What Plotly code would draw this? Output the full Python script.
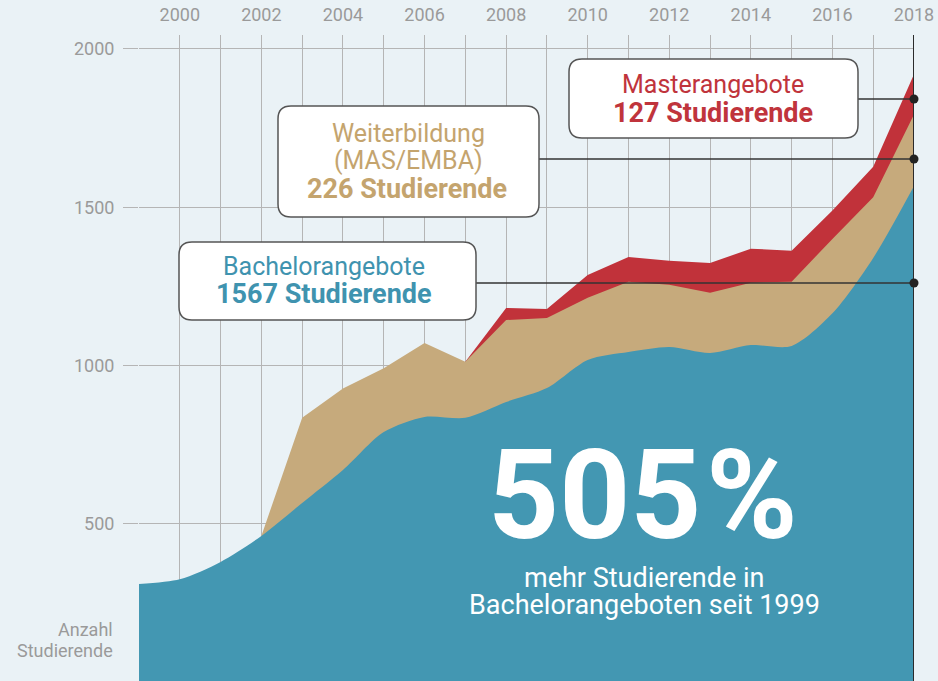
import plotly.graph_objects as go

# ---------------- data ----------------
years = list(range(1999, 2019))
bachelor = [310, 325, 380, 462, 566, 670, 790, 838, 835, 885,
            929, 1018, 1043, 1059, 1040, 1065, 1062, 1165, 1340, 1567]
weiterbildung = [0, 0, 0, 0, 269, 258, 202, 233, 177, 259,
                 221, 196, 222, 196, 190, 197, 203, 235, 192, 226]
master = [0, 0, 0, 0, 0, 0, 0, 0, 0, 38,
          29, 72, 78, 76, 94, 107, 98, 90, 96, 127]
x_tick_labels = ["", "2000", "", "2002", "", "2004", "", "2006", "", "2008",
                 "", "2010", "", "2012", "", "2014", "", "2016", "", "2018"]
y_ticks = [500, 1000, 1500, 2000]

# cumulative tops
tan_top = [b + w for b, w in zip(bachelor, weiterbildung)]
red_top = [t + m for t, m in zip(tan_top, master)]

# ---------------- style ----------------
BG = "#EAF2F6"
BLUE = "#4397B2"
TAN = "#C6AA7C"
RED = "#C1323A"
GRID = "#B5B5B5"
GRAY_TXT = "#9A9A9A"
FONT = "Roboto"

W, H = 938, 681
L, R, T, B = 139, 24, 35, 0


def fx(X):
    return (X - L) / (W - L - R)


def fy(Y):
    return 1 - (Y - T) / (H - T - B)


fig = go.Figure()

i_tan = years.index(2002)
i_red = years.index(2007)

fig.add_trace(go.Scatter(
    x=years[i_red:], y=red_top[i_red:], mode="lines", fill="tozeroy",
    line=dict(color=RED, width=0), fillcolor=RED, hoverinfo="skip",
    showlegend=False))
fig.add_trace(go.Scatter(
    x=years[i_tan:], y=tan_top[i_tan:], mode="lines", fill="tozeroy",
    line=dict(color=TAN, width=0), fillcolor=TAN, hoverinfo="skip",
    showlegend=False))
fig.add_trace(go.Scatter(
    x=years, y=bachelor, mode="lines", fill="tozeroy",
    line=dict(color=BLUE, width=0, shape="spline", smoothing=0.8),
    fillcolor=BLUE, hoverinfo="skip", showlegend=False))

shapes = []


def rrect(x0, y0, x1, y1, r):
    def p(X, Y):
        return f"{fx(X):.5f},{fy(Y):.5f}"
    d = (f"M {p(x0 + r, y0)} L {p(x1 - r, y0)} Q {p(x1, y0)} {p(x1, y0 + r)} "
         f"L {p(x1, y1 - r)} Q {p(x1, y1)} {p(x1 - r, y1)} "
         f"L {p(x0 + r, y1)} Q {p(x0, y1)} {p(x0, y1 - r)} "
         f"L {p(x0, y0 + r)} Q {p(x0, y0)} {p(x0 + r, y0)} Z")
    return dict(type="path", path=d, xref="paper", yref="paper",
                fillcolor="white", line=dict(color="#555555", width=1.5),
                layer="above")


# 2018 dark line
shapes.append(dict(type="line", xref="x", yref="paper", x0=2018, x1=2018,
                   y0=0, y1=1, line=dict(color="#2B2B2B", width=2)))

# leader lines + dots
leaders = [(858, 99), (539, 159), (476, 283)]
for xs, ys in leaders:
    shapes.append(dict(type="line", xref="paper", yref="paper",
                       x0=fx(xs), x1=fx(914), y0=fy(ys), y1=fy(ys),
                       line=dict(color="#333333", width=1.5)))
    rd = 4.5
    shapes.append(dict(type="circle", xref="paper", yref="paper",
                       x0=fx(914 - rd), x1=fx(914 + rd),
                       y0=fy(ys + rd), y1=fy(ys - rd),
                       fillcolor="#222222", line=dict(width=0)))

# boxes
shapes.append(rrect(569, 59, 858, 138, 13))
shapes.append(rrect(278, 106, 539, 217, 13))
shapes.append(rrect(179, 242, 476, 320, 13))

annotations = []


def txt(text, cx, cy, size, color, bold=False, xanchor="center"):
    annotations.append(dict(
        text=f"<b>{text}</b>" if bold else text,
        x=fx(cx), y=fy(cy), xref="paper", yref="paper",
        xanchor=xanchor, yanchor="middle", showarrow=False,
        font=dict(family=FONT, size=size, color=color)))


MASTER_C = "#C0343C"
TAN_C = "#C4A46E"
BLUE_C = "#3F93AF"

txt("Masterangebote", 713, 84, 25, MASTER_C)
txt("127 Studierende", 713, 113, 27, MASTER_C, bold=True)

txt("Weiterbildung", 408, 133, 25, TAN_C)
txt("(MAS/EMBA)", 408, 160, 25, TAN_C)
txt("226 Studierende", 407, 189, 27, TAN_C, bold=True)

txt("Bachelorangebote", 324, 267, 25, BLUE_C)
txt("1567 Studierende", 324, 294, 27, BLUE_C, bold=True)

txt("505", 594, 495, 124, "white", bold=True)
txt("%", 752, 495, 124, "white", bold=True)
txt("mehr Studierende in", 644, 578, 27, "white")
txt("Bachelorangeboten seit 1999", 644, 605, 27, "white")

txt("Anzahl", 115, 629, 18, GRAY_TXT, xanchor="right")
txt("Studierende", 115, 650, 18, GRAY_TXT, xanchor="right")

fig.update_layout(
    width=W, height=H,
    margin=dict(l=L, r=R, t=T, b=B, pad=0),
    paper_bgcolor=BG, plot_bgcolor=BG,
    font=dict(family=FONT, color=GRAY_TXT, size=18),
    shapes=shapes, annotations=annotations,
    xaxis=dict(range=[1999, 2018], side="top", tickvals=years,
               ticktext=x_tick_labels, showgrid=True, gridcolor=GRID,
               gridwidth=1, zeroline=False, showline=False,
               ticks="outside", ticklen=6, tickcolor="rgba(0,0,0,0)",
               tickfont=dict(size=18, color=GRAY_TXT, family=FONT),
               fixedrange=True),
    yaxis=dict(range=[4, 2044], tickvals=y_ticks, showgrid=True,
               gridcolor=GRID, gridwidth=1, zeroline=False, showline=False,
               ticks="outside", ticklen=15, tickcolor=GRID,
               ticklabelstandoff=5,
               tickfont=dict(size=18, color=GRAY_TXT, family=FONT),
               fixedrange=True),
)

fig.write_html(
    "out.html",
    config={"displayModeBar": False, "staticPlot": True},
    post_script="document.body.style.margin='0px';"
                "document.body.style.overflow='hidden';"
                f"document.body.style.background='{BG}';")
